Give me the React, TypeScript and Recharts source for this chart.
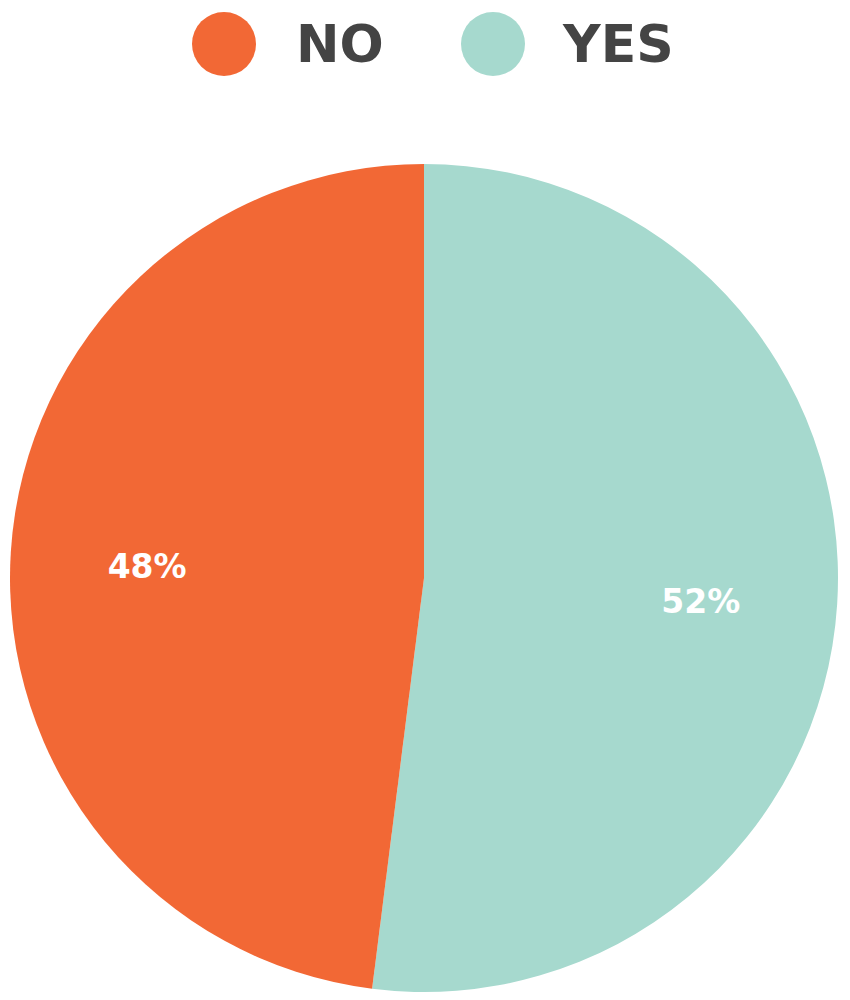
import { PieChart, Pie, Cell } from 'recharts';

const categories = ['YES', 'NO'];
const values = [52, 48];
const colors = ['#A6D9CE', '#F26835'];
const legendOrder = ['NO', 'YES'];

const data = categories.map((name, i) => ({ name, value: values[i] }));

const RAD = Math.PI / 180;

const renderLabel = (props: any) => {
  const { cx, cy, midAngle, outerRadius, value } = props;
  const r = outerRadius * 0.67;
  const x = cx + r * Math.cos(-midAngle * RAD);
  const y = cy + r * Math.sin(-midAngle * RAD) + 6;
  return (
    <text
      x={x}
      y={y}
      fill="#ffffff"
      textAnchor="middle"
      dominantBaseline="central"
      fontFamily="DejaVu Sans"
      fontWeight="bold"
      fontSize={33}
    >
      {`${value}%`}
    </text>
  );
};

const legendPos: Record<string, { dot: number; text: number }> = {
  NO: { dot: 224, text: 296 },
  YES: { dot: 493, text: 563 },
};

const App = () => (
  <div style={{ position: 'absolute', left: 0, top: 0, width: 850, height: 1000, background: '#fff' }}>
    {legendOrder.map((name) => (
      <div key={name}>
        <div
          style={{
            position: 'absolute',
            left: legendPos[name].dot - 32,
            top: 12,
            width: 64,
            height: 64,
            borderRadius: '50%',
            background: colors[categories.indexOf(name)],
          }}
        />
        <div
          style={{
            position: 'absolute',
            left: legendPos[name].text,
            top: 12,
            height: 64,
            lineHeight: '64px',
            fontFamily: 'DejaVu Sans',
            fontWeight: 'bold',
            fontSize: 52,
            color: '#444444',
          }}
        >
          {name}
        </div>
      </div>
    ))}
    <PieChart width={850} height={1000} margin={{ top: 0, right: 0, bottom: 0, left: 0 }} style={{ position: 'absolute', left: 0, top: 0 }}>
      <Pie
        data={data}
        dataKey="value"
        nameKey="name"
        cx={424}
        cy={578}
        outerRadius={414}
        startAngle={90}
        endAngle={-270}
        stroke="none"
        label={renderLabel}
        labelLine={false}
        isAnimationActive={false}
      >
        {data.map((d, i) => (
          <Cell key={d.name} fill={colors[i]} />
        ))}
      </Pie>
    </PieChart>
  </div>
);

export default App;
